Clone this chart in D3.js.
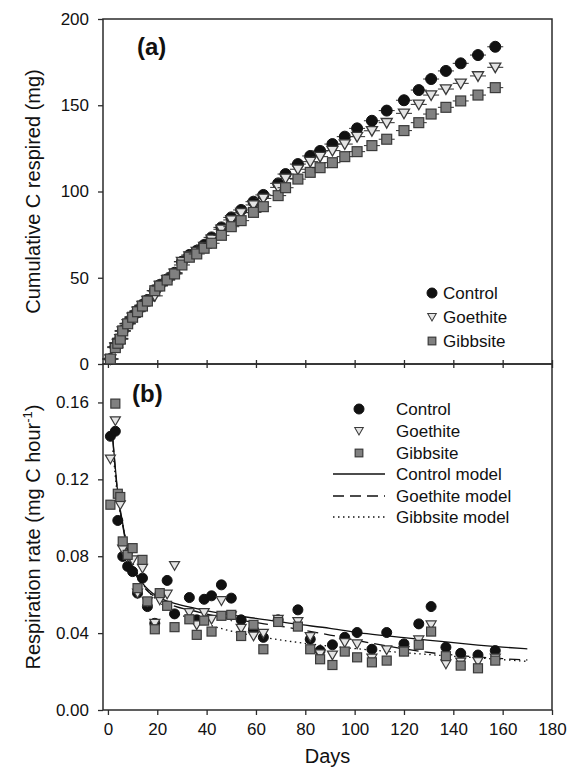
<!DOCTYPE html>
<html>
<head>
  <title>Soil respiration</title>
  <script src="https://d3js.org/d3.v7.min.js"></script>
  <style>
    body { margin: 0; background: #fff; }
    svg text { font-family: "Liberation Sans", Arial, sans-serif; fill: #111; }
  </style>
</head>
<body>
  <div id="chart"></div>
  <script>
    // panel (a) cumulative C respired (mg)
    const daysA = [1,3,4,5,6,8,10,12,14,16,19,21,24,27,30,33,36,39,42,46,50,54,59,63,69,72,77,82,86,91,96,101,107,113,120,126,131,137,143,150,157];
    const controlA = [2.9,10.0,12.0,14.9,19.3,23.6,27.4,30.9,34.2,37.1,42.5,45.8,49.1,52.9,59.3,63.2,65.7,69.0,73.4,79.2,85.0,89.3,94.1,98.0,104.7,110.1,115.9,120.6,123.5,127.5,131.8,136.6,141.0,146.9,152.9,158.8,165.2,169.9,174.3,179.1,183.9];
    const goethiteA = [2.9,9.8,11.8,14.6,19.0,23.3,27.0,30.5,33.8,36.8,39.5,45.5,48.8,52.6,59.3,62.6,65.1,68.0,72.3,78.1,83.5,87.7,92.2,96.0,102.4,107.6,112.9,117.3,120.2,123.7,127.5,131.8,135.2,139.9,145.3,150.5,155.9,159.4,162.7,167.0,172.0];
    const gibbsiteA = [2.9,9.5,12.0,14.4,19.2,23.3,27.1,30.3,33.6,36.5,42.5,45.2,48.7,52.2,57.4,61.9,63.8,67.1,70.0,74.6,79.6,83.1,87.9,91.2,97.6,102.2,107.2,111.1,113.8,116.7,120.2,123.1,126.6,130.3,135.3,139.9,144.9,148.8,152.5,155.9,160.2];

    // panel (b) respiration rate (mg C hour-1)
    const daysB = [1,3,4,5,6,8,10,12,14,16,19,21,24,27,33,36,39,42,46,50,54,59,63,69,77,82,86,91,96,101,107,113,120,126,131,137,143,150,157];
    const controlB = [0.1424,0.145,0.0986,null,0.0799,0.0747,0.072,0.0608,0.0686,0.0538,0.0451,0.060,0.0674,0.050,0.0585,0.0469,0.0576,0.0594,0.0651,0.0582,0.0469,0.0417,0.0378,0.0469,0.0521,0.0368,0.0309,0.0339,0.0378,0.0403,0.0316,0.0403,0.0344,0.0448,0.0538,0.0326,0.0295,0.0286,0.0309];
    const goethiteB = [0.1306,0.1505,null,0.1068,0.0837,0.0799,0.0781,0.0608,0.0738,0.0564,0.0451,0.0573,0.0603,0.0752,0.0507,0.0443,0.0507,0.0472,0.0569,0.049,0.0425,0.0385,0.0399,0.0472,0.046,0.0382,0.0292,0.0286,0.0351,0.0344,0.027,0.0313,0.031,0.0365,0.0443,0.024,0.025,0.0252,0.027];
    const gibbsiteB = [0.1068,0.1594,0.1125,0.1108,0.0877,0.0807,0.0842,0.0634,0.0781,0.0565,0.042,0.0608,0.0542,0.0431,0.0472,0.0391,0.0465,0.0408,0.049,0.0495,0.0385,0.0443,0.0316,0.0458,0.0434,0.0316,0.0264,0.0234,0.0304,0.0274,0.0248,0.0257,0.0304,0.0339,0.0408,0.028,0.0231,0.0217,0.0257];

    // model curves
    const modelDays = [2,4,6,8,10,14,20,27,35,47,60,75,90,105,120,135,150,160,170];
    const controlModel = [0.141,0.113,0.097,0.083,0.075,0.066,0.059,0.0555,0.053,0.050,0.0477,0.0449,0.0425,0.0397,0.0376,0.0357,0.0338,0.0327,0.0318];
    const goethiteModel = [0.140,0.112,0.096,0.082,0.074,0.065,0.058,0.054,0.0515,0.048,0.0455,0.0425,0.039,0.0352,0.0318,0.0292,0.0276,0.0267,0.026];
    const gibbsiteModel = [0.135,0.110,0.096,0.085,0.077,0.066,0.057,0.051,0.047,0.042,0.0385,0.0355,0.0332,0.0314,0.0298,0.0284,0.0271,0.0262,0.0253];

    const xTicks = [0,20,40,60,80,100,120,140,160,180];
    const yTicksA = [0,50,100,150,200];
    const yTicksB = [0,0.04,0.08,0.12,0.16];
    const seriesNames = ["Control","Goethite","Gibbsite"];
    const modelNames = ["Control model","Goethite model","Gibbsite model"];

    const W = 569, H = 768;
    const left = 103, right = 552;
    const topA = 19, botA = 364, botB = 710;
    const ink = "#2b2b2b";

    const svg = d3.select("#chart").append("svg")
      .attr("width", W).attr("height", H);

    const x = d3.scaleLinear().domain([-2, 180]).range([left, right]);
    const yA = d3.scaleLinear().domain([0, 200]).range([botA, topA]);
    const yB = d3.scaleLinear().domain([0, 0.18]).range([botB, botA]);

    const fmtB = d3.format(".2f");

    // frames
    function frame(y0, y1) {
      svg.append("rect")
        .attr("x", left).attr("y", y0)
        .attr("width", right - left).attr("height", y1 - y0)
        .attr("fill", "none").attr("stroke", ink).attr("stroke-width", 1.5);
    }
    frame(topA, botA);
    frame(botA, botB);

    // y axes
    svg.append("g")
      .attr("transform", "translate(" + left + ",0)")
      .call(d3.axisLeft(yA).tickValues(yTicksA).tickSize(5).tickPadding(9))
      .call(g => g.select(".domain").remove());
    svg.append("g")
      .attr("transform", "translate(" + left + ",0)")
      .call(d3.axisLeft(yB).tickValues(yTicksB).tickFormat(fmtB).tickSize(5).tickPadding(9))
      .call(g => g.select(".domain").remove());

    // x axis of (a): ticks crossing the shared border, no labels
    svg.append("g")
      .attr("transform", "translate(0," + (botA + 4) + ")")
      .call(d3.axisBottom(x).tickValues(xTicks).tickSize(-8).tickFormat(""))
      .call(g => g.select(".domain").remove());

    // x axis of (b)
    svg.append("g")
      .attr("transform", "translate(0," + botB + ")")
      .call(d3.axisBottom(x).tickValues(xTicks).tickSize(5).tickPadding(8))
      .call(g => g.select(".domain").remove());

    svg.selectAll(".tick line").attr("stroke", ink).attr("stroke-width", 1.3);
    svg.selectAll(".tick text").style("font-size", "17px")
      .style("font-family", "'Liberation Sans', Arial, sans-serif").attr("fill", "#111");

    // axis titles
    svg.append("text")
      .attr("transform", "translate(33," + ((topA + botA) / 2) + ") rotate(-90)")
      .attr("text-anchor", "middle").attr("dy", "0.35em")
      .style("font-size", "20px")
      .text("Cumulative C respired (mg)");

    const tB = svg.append("text")
      .attr("transform", "translate(33," + ((botA + botB) / 2) + ") rotate(-90)")
      .attr("text-anchor", "middle").attr("dy", "0.35em")
      .style("font-size", "20px");
    tB.append("tspan").text("Respiration rate (mg C hour");
    tB.append("tspan").attr("dy", "-8").style("font-size", "13px").text("-1");
    tB.append("tspan").attr("dy", "8").text(")");

    svg.append("text")
      .attr("x", (left + right) / 2).attr("y", 763)
      .attr("text-anchor", "middle")
      .style("font-size", "20px")
      .text("Days");

    svg.append("text").attr("x", 137).attr("y", 55)
      .style("font-size", "24px").style("font-weight", "bold").text("(a)");
    svg.append("text").attr("x", 132).attr("y", 402)
      .style("font-size", "24px").style("font-weight", "bold").text("(b)");

    // markers
    const tri = d3.symbol().type(d3.symbolTriangle).size(44);
    function marker(g, kind, cx, cy, s) {
      s = s || 1;
      if (kind === 0) {
        g.append("circle").attr("cx", cx).attr("cy", cy).attr("r", 5 * s)
          .attr("fill", "#111").attr("stroke", "#111");
      } else if (kind === 1) {
        g.append("path").attr("d", tri)
          .attr("transform", "translate(" + cx + "," + (cy - 1) + ") rotate(180) scale(" + s + ")")
          .attr("fill", "#e4e4e4").attr("stroke", "#3a3a3a").attr("stroke-width", 1.2);
      } else {
        g.append("rect").attr("x", cx - 4.5 * s).attr("y", cy - 4.5 * s)
          .attr("width", 9 * s).attr("height", 9 * s)
          .attr("fill", "#808080").attr("stroke", "#3a3a3a").attr("stroke-width", 1.2);
      }
    }

    // panel (a) points, with small horizontal bars
    const gA = svg.append("g");
    const valsA = [controlA, goethiteA, gibbsiteA];
    valsA.forEach((vals, k) => {
      daysA.forEach((d, i) => {
        gA.append("line")
          .attr("x1", x(d) - 8).attr("x2", x(d) + 8)
          .attr("y1", yA(vals[i])).attr("y2", yA(vals[i]))
          .attr("stroke", ink).attr("stroke-width", 1);
        marker(gA, k, x(d), yA(vals[i]), 1.1);
      });
    });

    // panel (b) model curves
    const line = d3.line().curve(d3.curveMonotoneX)
      .x((d, i) => x(modelDays[i])).y(d => yB(d));
    const dashes = [null, "11,6", "1.5,3.5"];
    [controlModel, goethiteModel, gibbsiteModel].forEach((m, k) => {
      svg.append("path").datum(m).attr("d", line)
        .attr("fill", "none").attr("stroke", "#111").attr("stroke-width", 1.3)
        .attr("stroke-dasharray", dashes[k]);
    });

    // panel (b) points
    const gB = svg.append("g");
    [controlB, goethiteB, gibbsiteB].forEach((vals, k) => {
      daysB.forEach((d, i) => {
        if (vals[i] == null) return;
        marker(gB, k, x(d), yB(vals[i]), 1);
      });
    });

    // legend (a)
    const legA = [293, 317, 341];
    seriesNames.forEach((n, k) => {
      marker(svg, k, 432, legA[k], k === 0 ? 1 : 0.85);
      svg.append("text").attr("x", 443).attr("y", legA[k] + 6)
        .style("font-size", "17px").text(n);
    });

    // legend (b)
    const legB = [409, 431, 453, 474, 496, 517];
    seriesNames.forEach((n, k) => {
      marker(svg, k, 359, legB[k], k === 0 ? 1 : 0.85);
      svg.append("text").attr("x", 396).attr("y", legB[k] + 6)
        .style("font-size", "17px").text(n);
    });
    modelNames.forEach((n, k) => {
      const yy = legB[k + 3];
      svg.append("line").attr("x1", 333).attr("x2", 385)
        .attr("y1", yy).attr("y2", yy)
        .attr("stroke", "#111").attr("stroke-width", 1.3)
        .attr("stroke-dasharray", dashes[k]);
      svg.append("text").attr("x", 396).attr("y", yy + 6)
        .style("font-size", "17px").text(n);
    });
  </script>
</body>
</html>
